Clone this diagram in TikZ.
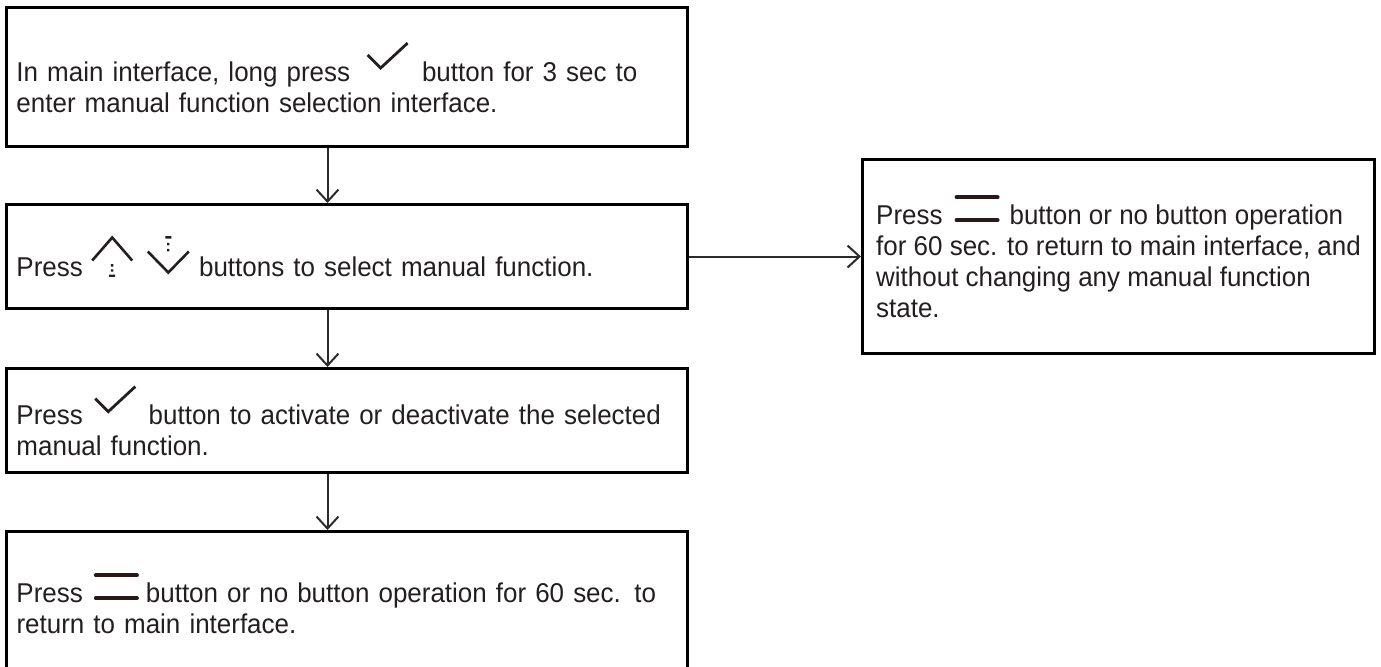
\documentclass[tikz,border=0pt]{standalone}
\usepackage{fontspec}
\setmainfont{Liberation Sans}[FakeStretch=0.955]
\usepackage{tikz}
\usetikzlibrary{positioning,arrows.meta}
\usepackage{xcolor}
\definecolor{inkgray}{HTML}{231F20}
\definecolor{arrowgray}{HTML}{2B2B2B}
\definecolor{iconbrown}{HTML}{2A1718}
\newcommand{\bodyfont}{\fontsize{13.6pt}{15.5pt}\selectfont}
\newcommand{\okicon}{\tikz[baseline=0pt,x=1pt,y=1pt]\draw[inkgray,line width=1.4pt,line join=miter] (0,13) -- (6.5,6.5) -- (20,19);}
\newcommand{\upicon}{\tikz[baseline=0pt,x=1pt,y=1pt]{\draw[inkgray,line width=1.3pt] (0,8) -- (10,19.5) -- (20,8);
  \fill[inkgray] (9.4,5) rectangle (10.6,6.2) (9.4,2.4) rectangle (10.6,3.6) (8.5,-0.2) rectangle (11.5,1);}}
\newcommand{\downicon}{\tikz[baseline=0pt,x=1pt,y=1pt]{\draw[inkgray,line width=1.3pt] (0,12.5) -- (10.25,2) -- (20.5,12.5);
  \fill[inkgray] (8.75,19) rectangle (11.75,20.2) (9.65,15.6) rectangle (10.85,16.8) (9.65,12.6) rectangle (10.85,13.8);}}
\newcommand{\menuicon}{\tikz[baseline=0pt,x=1pt,y=1pt]\draw[iconbrown,line width=1.8pt,line cap=round] (0.9,2) -- (21.6,2) (0.9,13.5) -- (21.6,13.5);}

\begin{document}
\begin{tikzpicture}[x=0.5pt,y=-0.5pt,>={Straight Barb[length=6pt,width=11pt]},node distance=27.5pt and 86pt,
  stepbox/.style={draw=black,line width=1.5pt,text=inkgray,align=left,inner xsep=5pt,inner ysep=0pt,text width=330.5pt,minimum width=340.5pt,font=\bodyfont},
  sidebox/.style={draw=black,line width=1.5pt,text=inkgray,align=left,inner xsep=1.5pt,inner ysep=0pt,minimum width=256pt,minimum height=97pt,font=\bodyfont},
  flow/.style={->,line width=1pt,draw=arrowgray}]
\useasboundingbox (0,0) rectangle (1381,666);
\node (enter) [stepbox,minimum height=69.5pt,anchor=north west] at (5,6) {In main interface, long press\hspace{8pt}\okicon\hspace{6.5pt}button for 3 sec to\\enter manual function selection interface.};
\node (select) [stepbox,minimum height=52pt,below=of enter] {Press\hspace{4pt}\upicon\hspace{6.5pt}\downicon\hspace{4.5pt}buttons to select manual function.};
\node (toggle) [stepbox,minimum height=52pt,below=28.5pt of select] {Press\hspace{5.5pt}\okicon\hspace{6pt}button to activate or deactivate the selected\\manual function.};
\node (leave) [stepbox,minimum height=72pt,below=28pt of toggle] {Press\hspace{5.5pt}\menuicon\hspace{3.5pt}button or no button operation for 60 sec. to\\return to main interface.};
\node (cancel) [sidebox,right=of select] {Press\hspace{6pt}\menuicon\hspace{5pt}button or no button operation\\for 60 sec. to return to main interface, and\\without changing any manual function\\state.};
\draw[flow] ([xshift=-9.75pt]enter.south) -- ([xshift=-9.75pt]select.north);
\draw[flow] ([xshift=-9.75pt]select.south) -- ([xshift=-9.75pt]toggle.north);
\draw[flow] ([xshift=-9.75pt]toggle.south) -- ([xshift=-9.75pt]leave.north);
\draw[flow] (select) -- (cancel);
\end{tikzpicture}
\end{document}
